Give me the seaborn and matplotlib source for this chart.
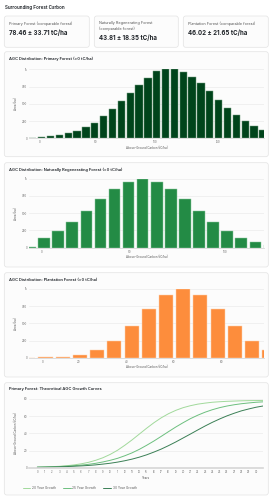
import numpy as np
import pandas as pd
import matplotlib
matplotlib.use("Agg")
import matplotlib.pyplot as plt
import seaborn as sns
from matplotlib.patches import FancyBboxPatch

# stat cards
stat_labels = ["Primary Forest (comparable forest)",
               "Naturally Regenerating Forest\n(comparable forest)",
               "Plantation Forest (comparable forest)"]
stat_values = ["78.46 ± 33.71 tC/ha", "43.81 ± 18.35 tC/ha", "46.02 ± 21.65 tC/ha"]

# histogram bars (area in ha per AGC bin), read left to right
primary_area = [5, 19, 29, 43, 72, 106, 159, 227, 319, 420, 536, 652, 773, 870,
                980, 1000, 1000, 966, 894, 797, 681, 560, 440, 338, 246, 174, 121]
natural_area = [4, 145, 246, 377, 531, 700, 850, 957, 1000, 957, 850, 700, 531,
                377, 246, 145, 82, 43]
plantation_area = [2, 5, 15, 39, 107, 248, 456, 704, 913, 1000, 913, 704, 456, 248, 107]

primary_ticklabels = ["0", "50", "100", "150"]
natural_ticklabels = ["0", "50", "100"]
plantation_ticklabels = ["0", "20", "40", "60", "80"]

# growth curves (tC/ha by year)
years = list(range(32))
growth_20 = [0.6, 0.8, 1.2, 1.6, 2.3, 3.2, 4.5, 6.2, 8.6, 11.6, 15.5, 20.3, 26.1, 32.4,
             39.2, 46.0, 52.4, 58.1, 62.9, 66.8, 69.9, 72.2, 74.0, 75.2, 76.2, 76.8,
             77.3, 77.6, 77.9, 78.1, 78.2, 78.3]
growth_25 = [0.6, 0.8, 1.0, 1.3, 1.8, 2.3, 3.0, 3.9, 5.1, 6.7, 8.6, 10.9, 13.9, 17.3,
             21.4, 26.1, 31.1, 36.5, 42.0, 47.4, 52.4, 57.1, 61.1, 64.6, 67.5, 69.9,
             71.8, 73.3, 74.5, 75.4, 76.2, 76.7]
growth_30 = [0.5, 0.6, 0.8, 1.0, 1.3, 1.7, 2.1, 2.6, 3.3, 4.2, 5.2, 6.5, 8.1, 10.0,
             12.3, 15.0, 18.2, 21.7, 25.7, 30.0, 34.6, 39.2, 43.9, 48.5, 52.8, 56.7,
             60.3, 63.4, 66.2, 68.4, 70.4, 71.9]
growth_names = ["20 Year Growth", "25 Year Growth", "30 Year Growth"]

sns.set_theme(style="white")
plt.rcParams["font.family"] = ["Inter", "DejaVu Sans"]

W, H = 273, 500
fig = plt.figure(figsize=(W / 100, H / 100), dpi=100)
fig.patch.set_facecolor("white")
bg = fig.add_axes([0, 0, 1, 1])
bg.set_xlim(0, W)
bg.set_ylim(H, 0)
bg.axis("off")

TXT = "#1f2328"
SUB = "#555555"


def card(x0, y0, x1, y1):
    bg.add_patch(FancyBboxPatch((x0, y0), x1 - x0, y1 - y0,
                                boxstyle="round,pad=0,rounding_size=2.5",
                                fc="#fcfcfc", ec="#e3e3e3", lw=0.5))


def px_axes(l, t, r, b):
    return fig.add_axes([l / W, 1 - b / H, (r - l) / W, (b - t) / H])


def style_axes(ax):
    ax.set_facecolor("none")
    for s in ["top", "right", "left"]:
        ax.spines[s].set_visible(False)
    ax.spines["bottom"].set_color("#d6d6d6")
    ax.spines["bottom"].set_linewidth(0.6)
    ax.grid(axis="y", color="#ececec", lw=0.5)
    ax.grid(axis="x", visible=False)
    ax.set_axisbelow(True)
    ax.tick_params(length=0, pad=1.5, labelsize=2.1, colors="#666666")


bg.text(5, 7.5, "Surrounding Forest Carbon", fontsize=3.3, weight="semibold",
        color=TXT, va="center")

stat_x = [(4.3, 89.3), (94.3, 178.3), (183.3, 268.3)]
value_y = [32.3, 37.3, 32.3]
for (x0, x1), lab, val, vy in zip(stat_x, stat_labels, stat_values, value_y):
    card(x0, 16, x1, 47.3)
    bg.text(x0 + 5, 21.3, lab, fontsize=2.75, color=SUB, va="top", linespacing=1.45)
    bg.text(x0 + 5, vy, val, fontsize=4.4, weight="bold", color=TXT, va="center")


def hist_panel(top_card, bot_card, title, ax_top, ax_bot, values, color, edge,
               ticks, ticklabels, xlim):
    card(4.3, top_card, 268.3, bot_card)
    bg.text(9.3, top_card + 7.5, title, fontsize=2.9, weight="semibold", color=TXT,
            va="center")
    ax = px_axes(29.3, ax_top, 263.8, ax_bot)
    sns.barplot(x=np.arange(len(values)), y=values, color=color, saturation=1,
                width=0.82, edgecolor=edge, linewidth=0.35, ax=ax)
    style_axes(ax)
    ax.set_xlim(*xlim)
    ax.set_ylim(0, 1000)
    ax.set_yticks([0, 250, 500, 750, 1000])
    ax.set_yticklabels(["0", "250", "500", "750", "1k"])
    ax.set_xticks(ticks)
    ax.set_xticklabels(ticklabels)
    ax.set_xlabel("Above-Ground Carbon (tC/ha)", fontsize=2.1, color="#555555",
                  labelpad=1.0)
    ax.set_ylabel("Area (ha)", fontsize=2.1, color="#555555", labelpad=3.2)
    return ax


hist_panel(51.7, 156.7, "AGC Distribution: Primary Forest (>0 tC/ha)", 69.3, 138.3,
           primary_area, "#00441b", "#6f9a7c",
           [0.82, 7.08, 13.8, 20.9], primary_ticklabels, (-0.4, 26.1))
hist_panel(162.7, 267, "AGC Distribution: Naturally Regenerating Forest (>0 tC/ha)",
           178.7, 247.7, natural_area, "#238b45", "#8cc79e",
           [0.82, 7.06, 13.88], natural_ticklabels, (-0.05, 16.6))
hist_panel(272.7, 377, "AGC Distribution: Plantation Forest (>0 tC/ha)", 289, 357.7,
           plantation_area, "#fd8d3c", "#fed0ad",
           [0.87, 2.94, 5.71, 8.46, 11.22], plantation_ticklabels, (0.06, 13.68))

# growth curves
card(4.3, 382.7, 268.3, 495)
bg.text(9.3, 389.3, "Primary Forest: Theoretical AGC Growth Curves", fontsize=2.9,
        weight="semibold", color=TXT, va="center")
growth = pd.DataFrame({"year": years, growth_names[0]: growth_20,
                       growth_names[1]: growth_25, growth_names[2]: growth_30})
long = growth.melt(id_vars="year", var_name="curve", value_name="agc")
ax4 = px_axes(29.3, 399, 263.3, 467.7)
sns.lineplot(data=long, x="year", y="agc", hue="curve", hue_order=growth_names,
             palette=["#a1d99b", "#6cbf7e", "#3a7f55"], lw=0.7, ax=ax4)
style_axes(ax4)
ax4.spines["bottom"].set_linewidth(1.2)
ax4.set_xlim(-1.1, 31)
ax4.set_ylim(0, 80)
ax4.set_yticks([0, 20, 40, 60, 80])
ax4.set_xticks(range(31))
ax4.tick_params(axis="x", labelsize=1.9, pad=2)
ax4.set_xlabel("Years", fontsize=2.1, color="#555555", labelpad=0.8)
ax4.set_ylabel("Above-Ground Carbon (tC/ha)", fontsize=2.1, color="#555555",
               labelpad=4.2)
ax4.legend(loc="center left", bbox_to_anchor=(20 / W, 1 - 487.7 / H),
           bbox_transform=fig.transFigure, ncol=3, frameon=False, fontsize=2.3,
           handlelength=2.3, handletextpad=0.6, columnspacing=2.2,
           labelcolor="#555555")

fig.savefig("out.png", dpi=100, facecolor="white")
